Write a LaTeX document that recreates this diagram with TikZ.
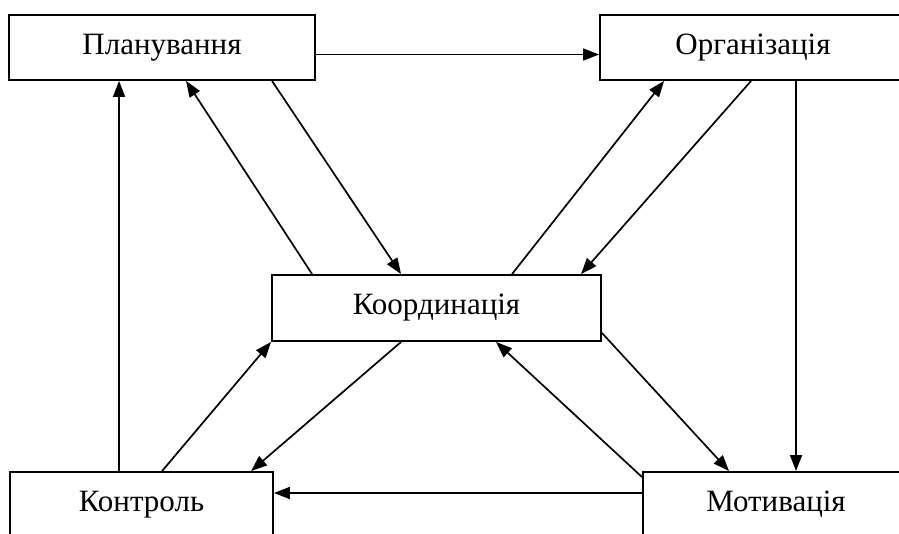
\documentclass[tikz,border=0pt]{standalone}
\usepackage{fontspec}
\setmainfont{Liberation Serif}
\usetikzlibrary{arrows.meta}
\tikzset{
  blk/.style={draw, line width=1.9pt, rectangle, inner sep=0pt, font=\fontsize{31}{36}\selectfont, text=black},
  arr/.style={line width=1.7pt, -{Triangle[length=16pt,width=12pt]}}
}
\begin{document}
\begin{tikzpicture}[x=1pt,y=-1pt]
\useasboundingbox (0,0) rectangle (899,533);
\clip (0,0) rectangle (899,533);
\node[blk, minimum width=306pt, minimum height=65pt] (plan) at (162,47.5) {Планування};
\node[blk, minimum width=306pt, minimum height=65pt] (org) at (753,47.5) {Організація};
\node[blk, minimum width=329pt, minimum height=66pt] (coord) at (436.5,308) {Координація};
\node[blk, minimum width=263pt, minimum height=65pt] (kontr) at (141.5,504.5) {Контроль};
\node[blk, minimum width=266pt, minimum height=65pt] (motiv) at (776,504.5) {Мотивація};
% connectors
\draw[arr] ([yshift=-7pt]plan.east) -- ([yshift=-7pt]org.west);
\draw[arr] ([xshift=110pt]kontr.north west) -- ([xshift=111pt]plan.south west);
\draw[arr] ([xshift=41pt]coord.north west) -- ([xshift=178pt]plan.south west);
\draw[arr] ([xshift=264pt]plan.south west) -- ([xshift=130pt]coord.north west);
\draw[arr] ([xshift=241pt]coord.north west) -- ([xshift=65pt]org.south west);
\draw[arr] ([xshift=152pt]org.south west) -- ([xshift=310pt]coord.north west);
\draw[arr] ([xshift=197pt]org.south west) -- ([xshift=154pt]motiv.north west);
\draw[arr] ([yshift=9pt]coord.south east) -- ([xshift=87pt]motiv.north west);
\draw[arr] ([yshift=-6pt]motiv.north west) -- ([xshift=225pt]coord.south west);
\draw[arr] ([xshift=130pt]coord.south west) -- ([xshift=242pt]kontr.north west);
\draw[arr] ([xshift=153pt]kontr.north west) -- (coord.south west);
\draw[arr] ([yshift=11.5pt]motiv.west) -- ([yshift=11.5pt]kontr.east);
\end{tikzpicture}
\end{document}
